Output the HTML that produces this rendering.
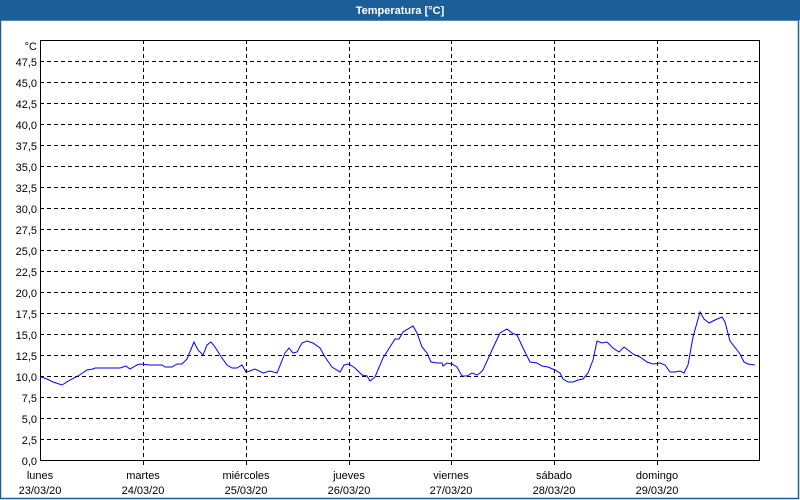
<!DOCTYPE html>
<html><head><meta charset="utf-8"><style>
html,body{margin:0;padding:0;background:#fff;width:800px;height:500px;overflow:hidden}
svg{display:block}
text{font-family:"Liberation Sans",sans-serif;font-size:11px;fill:#000}
</style></head><body>
<svg width="800" height="500" xmlns="http://www.w3.org/2000/svg">
<rect x="0" y="0" width="800" height="500" fill="#fff"/>
<rect x="0" y="0" width="800" height="20" fill="#1c5f98"/>
<rect x="0.5" y="20" width="798" height="478.5" fill="none" stroke="#1c5f98" stroke-width="1.5"/>
<text x="400" y="14" text-anchor="middle" style="font-weight:bold;fill:#fff">Temperatura [°C]</text>
<g stroke="#000" stroke-width="1" stroke-dasharray="4,3" fill="none">
<path d="M40 439.5H760M40 418.5H760M40 397.5H760M40 376.5H760M40 355.5H760M40 334.5H760M40 313.5H760M40 292.5H760M40 271.5H760M40 250.5H760M40 229.5H760M40 208.5H760M40 187.5H760M40 166.5H760M40 145.5H760M40 124.5H760M40 103.5H760M40 82.5H760M40 61.5H760"/>
<path d="M143.5 40V460M246.5 40V460M349.5 40V460M451.5 40V460M554.5 40V460M657.5 40V460"/>
</g>
<rect x="40.5" y="40.5" width="719" height="420" fill="none" stroke="#000"/>
<path d="M143.5 460V465M246.5 460V465M349.5 460V465M451.5 460V465M554.5 460V465M657.5 460V465" stroke="#000"/>
<g text-anchor="end">
<text x="37" y="50">°C</text>
<text x="37" y="66">47,5</text><text x="37" y="87">45,0</text><text x="37" y="108">42,5</text><text x="37" y="129">40,0</text>
<text x="37" y="150">37,5</text><text x="37" y="171">35,0</text><text x="37" y="192">32,5</text><text x="37" y="213">30,0</text>
<text x="37" y="234">27,5</text><text x="37" y="255">25,0</text><text x="37" y="276">22,5</text><text x="37" y="297">20,0</text>
<text x="37" y="318">17,5</text><text x="37" y="339">15,0</text><text x="37" y="360">12,5</text><text x="37" y="381">10,0</text>
<text x="37" y="402">7,5</text><text x="37" y="423">5,0</text><text x="37" y="444">2,5</text><text x="37" y="465">0,0</text>
</g>
<g text-anchor="middle">
<text x="40" y="479">lunes</text><text x="40" y="494">23/03/20</text>
<text x="143" y="479">martes</text><text x="143" y="494">24/03/20</text>
<text x="246" y="479">miércoles</text><text x="246" y="494">25/03/20</text>
<text x="349" y="479">jueves</text><text x="349" y="494">26/03/20</text>
<text x="451" y="479">viernes</text><text x="451" y="494">27/03/20</text>
<text x="554" y="479">sábado</text><text x="554" y="494">28/03/20</text>
<text x="657" y="479">domingo</text><text x="657" y="494">29/03/20</text>
</g>
<polyline fill="none" stroke="#0000ff" stroke-width="1" points="40,376.7 47,379 53,382 62,385 70,380 78,376 87,370 93,369 95,368 103,368 108,368 120,368 126,366 130,369 137,365 140,364 150,365 162,365 165,367 172,367 177,364 182,364 187,359 194,342 198,350 203,355 207,345 211,342 215,347 222,358 227,365 232,368 237,368 242,365 246,372 250,371 255,369 263,373 270,371 277,373 285,353 289,348 293,353 297,352 302,343 307,341 313,343 320,348 325,357 332,367 340,372 344,365 349,364 355,368 362,375 367,376 370,381 375,377 383,358 395,339 399,339 403,332 413,326 417,333 422,347 427,353 431,362 437,363 442,363 443,366 447,363 452,364 457,367 462,376 467,376 472,373 477,375 480,373 483,370 492,350 500,333 507,329 512,333 517,335 523,348 530,362 537,363 542,366 548,367 555,370 560,373 563,379 568,382 573,382 578,380 583,379 588,373 593,360 597,341 602,343 607,342 613,348 619,352 624,347 628,350 633,354 640,357 647,362 653,364 660,363 665,365 670,372 675,372 680,371 684,373 688,365 693,337 700,312 704,319 709,323 715,320 722,317 725,322 730,341 737,350 740,354 744,362 748,364 755,365"/>
</svg>
</body></html>
